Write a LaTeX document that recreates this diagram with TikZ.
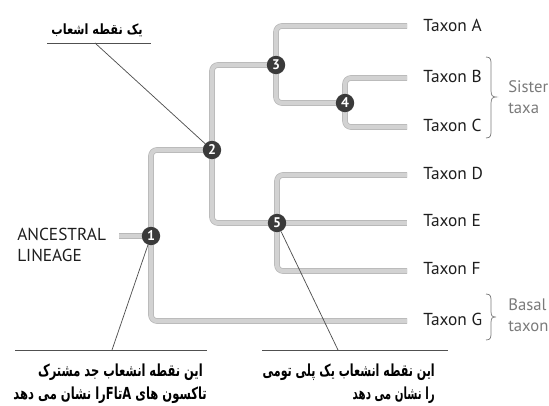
\documentclass[tikz,border=0pt]{standalone}
\usepackage{fontspec}
\usepackage{graphicx}
\setmainfont{PT Sans}
\newfontfamily\fa[Script=Arabic]{DejaVu Sans}
\TeXXeTstate=1
\usetikzlibrary{backgrounds}
\definecolor{branch}{HTML}{D2D2D2}
\definecolor{branchedge}{HTML}{B8B8B8}
\definecolor{nodefill}{HTML}{3A3A3A}
\definecolor{pointer}{HTML}{505050}
\definecolor{sidegray}{HTML}{7A7A7A}
\definecolor{labelink}{HTML}{1E1E1E}
\newcommand{\fatext}[3]{\resizebox*{#1}{#2}{\fa\bfseries\fontsize{12}{14}\selectfont #3}}
\tikzset{
  branchline/.style={draw=branchedge, line width=0.55pt, double=branch, double distance=3.1pt, rounded corners=4.5pt},
  bpoint/.style={circle, fill=nodefill, minimum size=13.8pt, inner sep=0pt, text=white, font=\fontsize{10.5}{12}\selectfont\bfseries},
  taxon/.style={anchor=west, inner sep=0pt, text=labelink, font=\fontsize{13}{15}\selectfont},
  sidenote/.style={anchor=west, inner sep=0pt, text=sidegray, align=left, font=\fontsize{12.5}{15.8}\selectfont},
  pline/.style={draw=pointer, line width=0.55pt},
  facap/.style={inner sep=0pt, text=black, anchor=east},
  bracestyle/.style={draw=sidegray, line width=0.55pt}
}
\begin{document}
\begin{tikzpicture}[x=0.75pt, y=-0.75pt]
\useasboundingbox (0,0) rectangle (549,406);
% branch points
\node[bpoint] (n1) at (151,236) {1};
\node[bpoint] (n2) at (212,150) {2};
\node[bpoint] (n3) at (276,65) {3};
\node[bpoint] (n4) at (345,103) {4};
\node[bpoint] (n5) at (277,223) {5};
% leaf ends
\coordinate (eA) at (407,26);
\coordinate (eB) at (407,78);
\coordinate (eC) at (407,127);
\coordinate (eD) at (407,175);
\coordinate (eE) at (407,223);
\coordinate (eF) at (407,271);
\coordinate (eG) at (407,321);
\coordinate (anc) at (119,236);
\begin{pgfonlayer}{background}
\path[branchline] (anc) -- (n1.center);
\path[branchline] (n1.center) |- (n2.center);
\path[branchline] (n1.center) |- (eG);
\path[branchline] (n2.center) |- (n3.center);
\path[branchline] (n2.center) |- (n5.center);
\path[branchline] (n3.center) |- (eA);
\path[branchline] (n3.center) |- (n4.center);
\path[branchline] (n4.center) |- (eB);
\path[branchline] (n4.center) |- (eC);
\path[branchline] (n5.center) |- (eD);
\path[branchline] (n5.center) -- (eE);
\path[branchline] (n5.center) |- (eF);
\end{pgfonlayer}
% taxon labels
\node[taxon] (tA) at (423,25) {Taxon A};
\node[taxon] (tB) at (423,76) {Taxon B};
\node[taxon] (tC) at (423,125) {Taxon C};
\node[taxon] (tD) at (423,173) {Taxon D};
\node[taxon] (tE) at (423,221) {Taxon E};
\node[taxon] (tF) at (423,269) {Taxon F};
\node[taxon] (tG) at (423,319) {Taxon G};
\node[taxon, align=left, font=\fontsize{13}{15.8}\selectfont] (anclab) at (17,245) {ANCESTRAL\\LINEAGE};
% braces (drawn as shapes, tip pointing right)
\draw[bracestyle] (486,57) .. controls (491,57) and (491,60) .. (491,65)
  -- (491,90) .. controls (491,95) and (492,97) .. (496,97)
  .. controls (492,97) and (491,99) .. (491,104)
  -- (491,130) .. controls (491,135) and (491,138) .. (486,138);
\draw[bracestyle] (486,294) .. controls (491,294) and (491,297) .. (491,302)
  -- (491,311) .. controls (491,316) and (492,317) .. (496,317)
  .. controls (492,317) and (491,318) .. (491,323)
  -- (491,332) .. controls (491,337) and (491,340) .. (486,340);
\node[sidenote] (sister) at (508,97) {Sister\\taxa};
\node[sidenote] (basal) at (508,315) {Basal\\taxon};
% annotation: top
\coordinate (ua1) at (47,43);
\coordinate (ua2) at (151,43);
\coordinate (pa) at (95,43);
\draw[pline] (ua1) -- (ua2);
\draw[pline] (pa) -- (n2);
\node[facap] (captop) at (143,30) {\fatext{68.5pt}{9.8pt}{\beginR یک نقطه اشعاب\endR}};
% annotation: node 1
\coordinate (ub1) at (15,350);
\coordinate (ub2) at (207,350);
\coordinate (pb) at (112,350);
\draw[pline] (ub1) -- (ub2);
\draw[pline] (n1) -- (pb);
\node[facap] (capleft1) at (203,372) {\fatext{123.5pt}{12.5pt}{\beginR این نقطه انشعاب جد مشترک\endR}};
\node[facap] (capleft2) at (207,395) {\fatext{145pt}{12.5pt}{\beginR تاکسون های \beginL A\endL{}تا\beginL F\endL{}را نشان می دهد\endR}};
% annotation: node 5
\coordinate (uc1) at (262,350);
\coordinate (uc2) at (448,350);
\coordinate (pc) at (338,350);
\draw[pline] (uc1) -- (uc2);
\draw[pline] (n5) -- (pc);
\node[facap] (capright1) at (435,372) {\fatext{129pt}{12.5pt}{\beginR این نقطه انشعاب یک پلی تومی\endR}};
\node[facap] (capright2) at (435,395) {\fatext{61.5pt}{12.5pt}{\beginR را نشان می دهد\endR}};
\end{tikzpicture}
\end{document}
